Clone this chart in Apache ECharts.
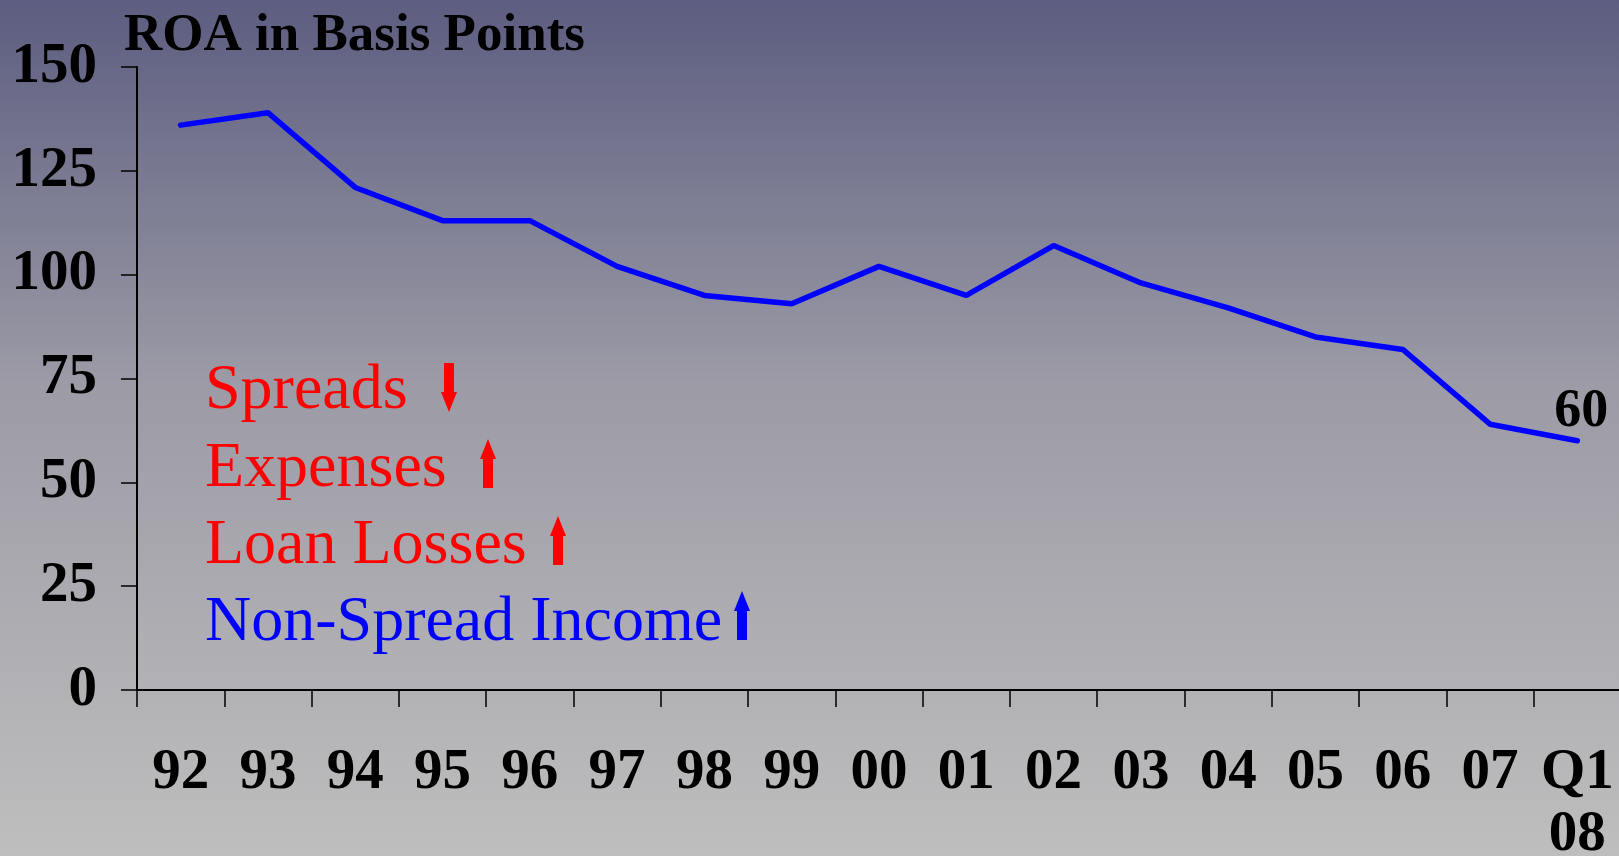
<!DOCTYPE html>
<html>
<head>
<meta charset="utf-8">
<script src="https://cdn.jsdelivr.net/npm/echarts@6/dist/echarts.min.js"></script>
<style>
    html, body { margin: 0; padding: 0; }
    #chart { width: 1619px; height: 856px; }
</style>
</head>
<body>
<div id="chart"></div>
<script>
// ROA in basis points, 1992 - Q1 2008
var years = ['92','93','94','95','96','97','98','99','00','01','02','03','04','05','06','07','Q1\n08'];
var roaValues = [136, 139, 121, 113, 113, 102, 95, 93, 102, 95, 107, 98, 92, 85, 82, 64, 60];
var yTicks = [0, 25, 50, 75, 100, 125, 150];

var notes = ['Spreads', 'Expenses', 'Loan Losses', 'Non-Spread Income'];
var noteColors = ['#ff0000', '#ff0000', '#ff0000', '#0000ff'];
var noteArrows = ['down', 'up', 'up', 'up'];

var serif = '"Liberation Serif", "Times New Roman", serif';

var chart = echarts.init(document.getElementById('chart'));

function arrowShape(cx, top, bottom, dir, color){
    var hw = 8, sw = 5, hh = 20, pts;
    if (dir == 'up') {
        pts = [[cx, top], [cx+hw, top+hh], [cx+sw, top+hh], [cx+sw, bottom], [cx-sw, bottom], [cx-sw, top+hh], [cx-hw, top+hh]];
    } else {
        pts = [[cx, bottom], [cx+hw, bottom-hh], [cx+sw, bottom-hh], [cx+sw, top], [cx-sw, top], [cx-sw, bottom-hh], [cx-hw, bottom-hh]];
    }
    return { type: 'polygon', shape: { points: pts }, style: { fill: color }, z: 10 };
}

var graphics = [];
var noteY = [392, 470, 547, 624];
var arrowX = [449, 488, 558, 742];
var arrowTop = [363, 439, 516, 591];
for (var i = 0; i < notes.length; i++) {
    graphics.push({
        type: 'text', left: 205, top: noteY[i] - 33, z: 10,
        style: { text: notes[i], fill: noteColors[i], font: '64px ' + serif }
    });
    graphics.push(arrowShape(arrowX[i], arrowTop[i], arrowTop[i] + 49, noteArrows[i], noteColors[i]));
}

var option = {
    backgroundColor: {
        type: 'linear', x: 0, y: 0, x2: 0, y2: 1,
        colorStops: [
            { offset: 0, color: '#5c5d80' },
            { offset: 0.45, color: '#9c9ba6' },
            { offset: 1, color: '#bebebe' }
        ]
    },
    title: {
        text: 'ROA in Basis Points',
        left: 119, top: 5,
        textStyle: { fontFamily: serif, fontWeight: 'bold', fontSize: 53, color: '#000' }
    },
    grid: { left: 137, right: -2, top: 67, bottom: 166, containLabel: false, outerBoundsMode: 'none' },
    xAxis: {
        type: 'category',
        data: years,
        boundaryGap: true,
        axisLine: { lineStyle: { color: '#000', width: 2 } },
        axisTick: { show: true, length: 17, lineStyle: { color: '#000', width: 1.5 } },
        axisLabel: {
            margin: 52, interval: 0, color: '#000',
            fontFamily: serif, fontWeight: 'bold', fontSize: 57, lineHeight: 62,
            verticalAlign: 'top'
        }
    },
    yAxis: {
        type: 'value',
        min: 0, max: 150, interval: 25,
        splitLine: { show: false },
        axisLine: { show: true, lineStyle: { color: '#000', width: 2 } },
        axisTick: { show: true, length: 16, lineStyle: { color: '#000', width: 1.5 } },
        axisLabel: {
            margin: 40, color: '#000',
            fontFamily: serif, fontWeight: 'bold', fontSize: 57,
            customValues: yTicks
        }
    },
    series: [{
        type: 'line',
        data: roaValues,
        showSymbol: false,
        symbol: 'none',
        lineStyle: { color: '#0000ff', width: 5.5, cap: 'round' },
        label: { show: false },
        endLabel: {
            show: true,
            formatter: '{c}',
            color: '#000', fontFamily: serif, fontWeight: 'bold', fontSize: 54,
            offset: [-31, -29]
        },
        animation: false
    }],
    graphic: graphics,
    animation: false
};

chart.setOption(option);
window.onresize = function(){
    chart.resize();
};
</script>
</body>
</html>
